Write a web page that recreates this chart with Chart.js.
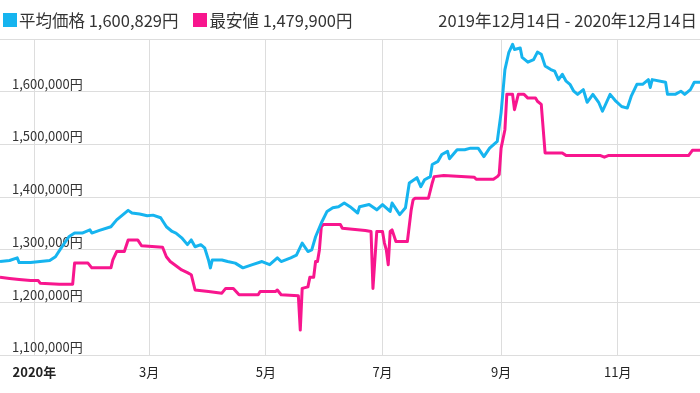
<!DOCTYPE html>
<html><head><meta charset="utf-8">
<script src="https://cdn.jsdelivr.net/npm/chart.js@4.4.1/dist/chart.umd.min.js"></script>
<style>
html,body{margin:0;padding:0;background:#fff;}
#wrap{position:relative;width:700px;height:393px;font-family:"Noto Sans CJK JP","Noto Sans",sans-serif;color:#333;}
canvas{position:absolute;left:0;top:0;}
.hdr{position:absolute;top:10px;font-size:16.5px;line-height:20px;white-space:nowrap;}
.item{display:inline-flex;align-items:center;margin-right:15px;}
.sw{display:inline-block;width:14px;height:14px;margin-right:2px;}
</style></head>
<body><div id="wrap"><canvas id="c" width="700" height="393"></canvas>
<div class="hdr" id="legend" style="left:3px"></div>
<div class="hdr" id="range" style="right:3px"></div></div>
<script>
// series labels and latest values shown in the legend
const seriesNames = ['平均価格', '最安値'];
const seriesLatest = [1600829, 1479900];
const seriesColors = ['#16b4ef', '#f8168e'];
const dateRange = ['2019年12月14日', '2020年12月14日'];

// x = days since 2019-12-14
const avgDays = [0,5,9,10,16,21,26,29,32,36,39,43,47,48,52,58,61,64,67,69,73,77,80,84,87,90,92,95,98,100,102,105,107,109,110,111,116,119,123,127,132,137,141,145,147,152,155,158,161,163,165,168,171,174,177,180,183,187,188,193,197,200,204,205,209,212,214,218,220,222,225,226,229,231,234,235,239,243,246,250,253,256,260,262,264,266,268,269,272,273,276,279,281,283,285,288,290,292,294,296,298,300,302,305,307,310,313,315,319,322,325,328,330,333,336,339,340,341,348,349,353,356,358,361,363,366];
const avgPrices = [1278000,1280000,1285000,1276000,1276000,1278000,1280000,1287000,1304000,1325000,1332000,1332000,1338000,1332000,1337000,1344000,1357000,1366000,1375000,1370000,1368000,1365000,1366000,1361000,1344000,1335000,1332000,1323000,1310000,1319000,1306000,1310000,1304000,1281000,1266000,1281000,1281000,1278000,1275000,1266000,1272000,1278000,1272000,1285000,1278000,1285000,1290000,1313000,1297000,1300000,1325000,1351000,1373000,1380000,1382000,1389000,1382000,1370000,1382000,1386000,1376000,1386000,1373000,1389000,1367000,1380000,1427000,1437000,1420000,1433000,1439000,1462000,1468000,1481000,1487000,1473000,1490000,1490000,1493000,1493000,1477000,1493000,1506000,1560000,1642000,1674000,1690000,1680000,1683000,1665000,1656000,1661000,1675000,1671000,1649000,1642000,1639000,1623000,1633000,1620000,1614000,1601000,1595000,1604000,1580000,1595000,1580000,1563000,1595000,1582000,1572000,1569000,1591000,1614000,1614000,1623000,1608000,1623000,1618000,1595000,1595000,1601000,1595000,1604000,1618000,1618000];

const minDays = [0,5,10,16,20,21,31,38,39,46,48,58,59,61,65,67,72,74,85,87,89,92,95,98,100,102,109,116,118,122,125,135,136,144,145,147,156,157,158,161,162,164,165,166,167,168,169,178,179,191,194,195,197,200,201,202,203,204,205,207,213,215,216,217,224,226,227,232,248,249,258,260,261,262,264,265,268,269,271,274,276,280,281,283,285,294,296,314,316,318,360,362,366];
const minPrices = [1248000,1246000,1244000,1242000,1242000,1237000,1235000,1235000,1275000,1275000,1266000,1266000,1281000,1297000,1297000,1319000,1319000,1308000,1305000,1287000,1278000,1270000,1262000,1257000,1253000,1224000,1221000,1218000,1227000,1227000,1215000,1215000,1221000,1221000,1224000,1215000,1213000,1148000,1227000,1230000,1248000,1248000,1278000,1278000,1300000,1344000,1348000,1348000,1341000,1337000,1335000,1227000,1335000,1335000,1313000,1300000,1272000,1335000,1338000,1316000,1316000,1376000,1395000,1398000,1398000,1427000,1439000,1441000,1438000,1434000,1434000,1439000,1443000,1493000,1528000,1595000,1595000,1566000,1595000,1595000,1588000,1588000,1582000,1576000,1484000,1484000,1479000,1479000,1476000,1479000,1479000,1489000,1489000];

const xTickDays = [18, 78, 139, 200, 262, 323];
const xTickLabels = ['2020年', '3月', '5月', '7月', '9月', '11月'];
const yMin = 1100000, yMax = 1700000, yStep = 100000;

const fmt = v => v.toLocaleString('en-US') + '円';

document.getElementById('legend').innerHTML = seriesNames.map((n, i) =>
  `<span class="item"><span class="sw" style="background:${seriesColors[i]}"></span>${n} ${fmt(seriesLatest[i])}</span>`).join('');
document.getElementById('range').textContent = dateRange[0] + ' - ' + dateRange[1];

const toPts = (xs, ys) => xs.map((x, i) => ({x, y: ys[i]}));
const FONT = '"Noto Sans CJK JP","Noto Sans",sans-serif';

new Chart(document.getElementById('c'), {
  type: 'line',
  data: {
    datasets: [
      {label: seriesNames[0], data: toPts(avgDays, avgPrices), borderColor: seriesColors[0], backgroundColor: seriesColors[0], borderWidth: 3, pointRadius: 0, tension: 0, borderJoinStyle: 'round', fill: false},
      {label: seriesNames[1], data: toPts(minDays, minPrices), borderColor: seriesColors[1], backgroundColor: seriesColors[1], borderWidth: 3, pointRadius: 0, tension: 0, borderJoinStyle: 'round', fill: false}
    ]
  },
  options: {
    responsive: false,
    animation: false,
    layout: {padding: {top: 39, bottom: 4, left: 0, right: 0}},
    plugins: {legend: {display: false}, tooltip: {enabled: false}},
    scales: {
      x: {
        type: 'linear', min: 0, max: 366,
        afterBuildTicks: s => { s.ticks = xTickDays.map(v => ({value: v})); },
        grid: {color: '#dddddd', drawTicks: false},
        border: {display: false},
        ticks: {
          padding: 9, color: '#222', maxRotation: 0, autoSkip: false,
          font: c => ({family: FONT, size: 13, weight: (c.tick && c.tick.value === xTickDays[0]) ? 'bold' : 'normal'}),
          callback: v => { const i = xTickDays.indexOf(v); return i >= 0 ? xTickLabels[i] : ''; }
        }
      },
      y: {
        min: yMin, max: yMax,
        afterFit: s => { s.width = 0; },
        grid: {color: '#dddddd', drawTicks: false},
        border: {display: false},
        ticks: {
          stepSize: yStep, mirror: true, padding: 12, labelOffset: -8, color: '#333',
          font: {family: FONT, size: 13},
          callback: v => v >= yMax ? '' : fmt(v)
        }
      }
    }
  }
});
</script>
</body></html>
